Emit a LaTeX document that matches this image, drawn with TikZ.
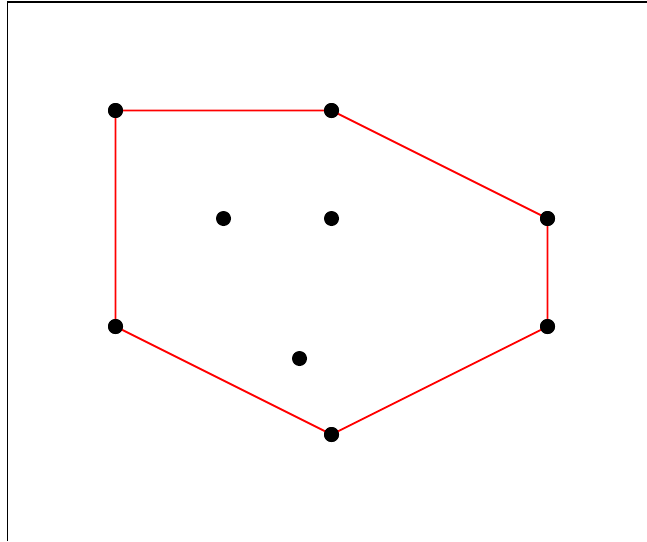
\documentclass[tikz,border=0pt]{standalone}
\begin{document}
\begin{tikzpicture}[x=1pt,y=-1pt,
  pt/.style={circle,fill=black,inner sep=0pt,minimum size=15pt},
  hull/.style={red,line width=1.8pt}]
\useasboundingbox (0,0) rectangle (647,541);
\fill[white] (0,0) rectangle (647,541);
\coordinate (tl) at (7.5,2);
\coordinate (tr) at (647,2);
\coordinate (bl) at (7.5,541);
\draw[line width=1.3pt] (bl) -- (tl) -- (tr);
\node[pt] (a) at (115.5,110.5) {};
\node[pt] (b) at (331.5,110.5) {};
\node[pt] (c) at (547.5,218.5) {};
\node[pt] (d) at (547.5,326.5) {};
\node[pt] (e) at (331.5,434.5) {};
\node[pt] (f) at (115.5,326.5) {};
\node[pt] (g) at (223.5,218.5) {};
\node[pt] (h) at (331.5,218.5) {};
\node[pt] (i) at (299.5,358.5) {};
\draw[hull] (a.center) -- (b.center) -- (c.center) -- (d.center) -- (e.center) -- (f.center) -- cycle;
\foreach \n in {a,b,c,d,e,f}{\fill (\n) circle (7.5pt);}
\end{tikzpicture}
\end{document}
